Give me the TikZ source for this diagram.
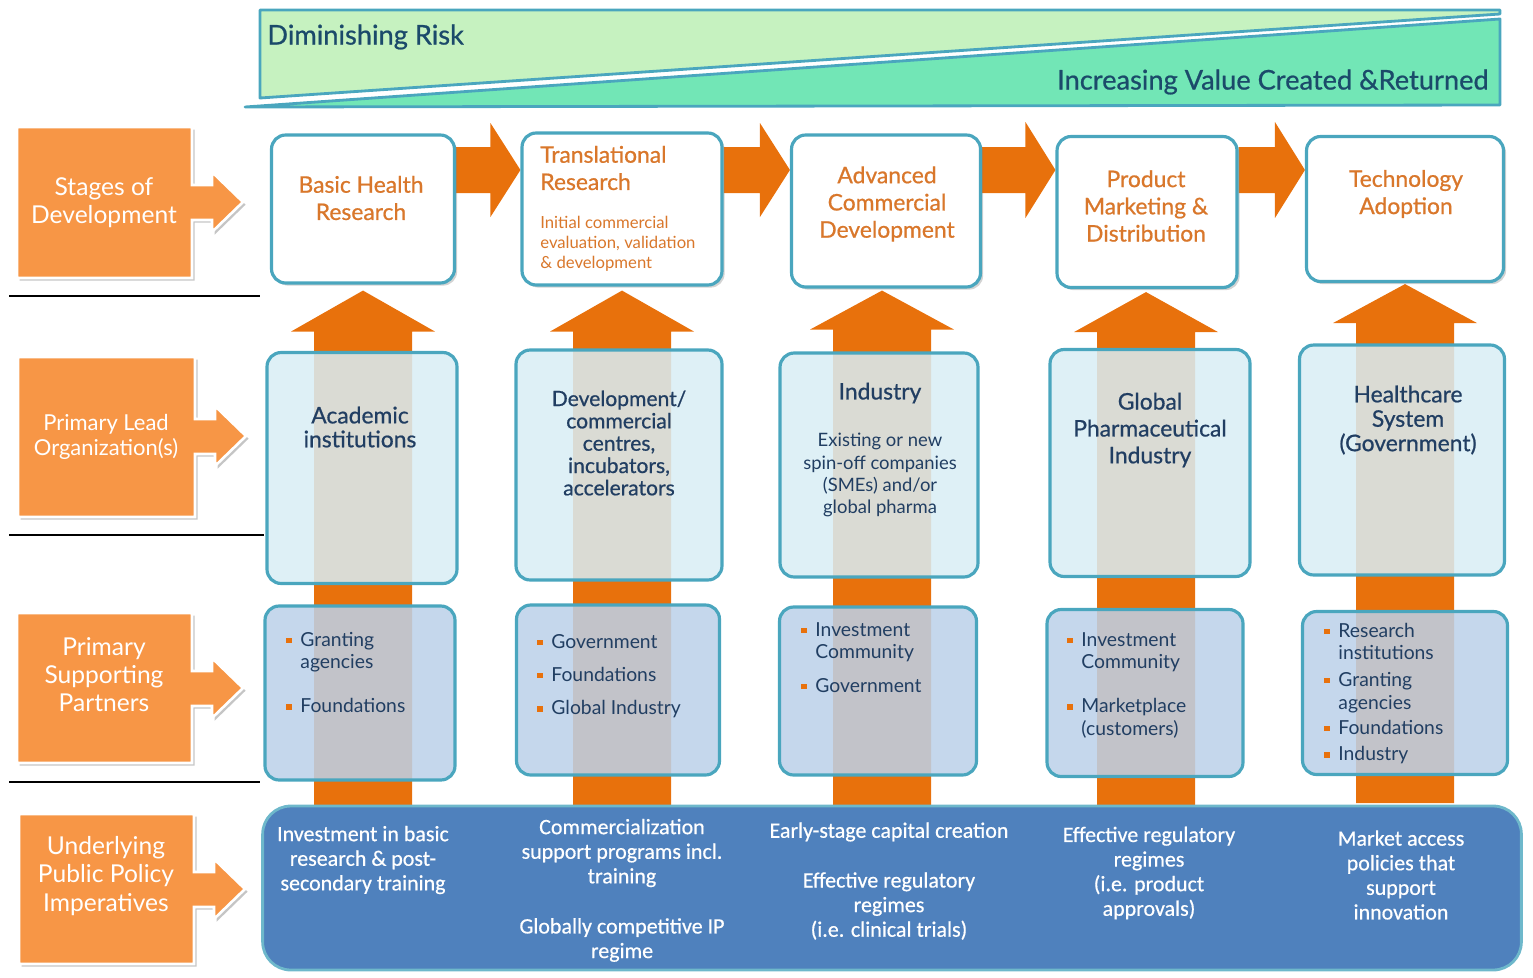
\documentclass[tikz,border=0pt]{standalone}
\usepackage{fontspec}
\setmainfont{Lato}
\newfontfamily\medfont{Lato}[FakeBold=0.7]
\newfontfamily\bandfont{Carlito}[FakeBold=0.5]
\usetikzlibrary{positioning,shadows,calc,backgrounds}

\definecolor{bannerlight}{HTML}{C6F2C0}
\definecolor{bannerdark}{HTML}{72E6B6}
\definecolor{tealline}{HTML}{4AA6BE}
\definecolor{bannerink}{HTML}{1B4A6A}
\definecolor{navyink}{HTML}{213E62}
\definecolor{flow}{HTML}{E8710C}
\definecolor{sidefill}{HTML}{F79646}
\definecolor{stageink}{HTML}{D9772B}
\definecolor{leadfill}{HTML}{D8EDF5}
\definecolor{partnerfill}{HTML}{BCD1E9}
\definecolor{policyfill}{HTML}{4F81BD}

\newcommand{\bul}{\textcolor{flow}{\rule[1.8pt]{3pt}{3pt}}}

\tikzset{
  bannertop/.style={fill=bannerlight, draw=tealline, line width=1.6pt, line join=round},
  bannerbottom/.style={fill=bannerdark, draw=tealline, line width=1.6pt, line join=round},
  bannertext/.style={text=bannerink, inner sep=0pt, font=\medfont\fontsize{15.5}{18}\selectfont},
  sidearrow/.style={fill=sidefill, draw=white, line width=1.5pt,
    drop shadow={shadow xshift=1.5pt, shadow yshift=-1.5pt, fill=black!45, opacity=.5}},
  sidetext/.style={text=white, align=center, inner sep=0pt, font=\fontsize{14}{16}\selectfont},
  flowarrow/.style={fill=flow},
  stagebox/.style={rectangle, rounded corners=8pt, draw=tealline, line width=1.8pt, fill=white,
    drop shadow={shadow xshift=1.5pt, shadow yshift=-1.5pt, fill=black!50, opacity=.35}},
  leadbox/.style={rectangle, rounded corners=8pt, draw=tealline, line width=1.8pt, fill=leadfill, fill opacity=.86},
  partnerbox/.style={rectangle, rounded corners=8pt, draw=tealline, line width=1.8pt, fill=partnerfill, fill opacity=.86},
  policyband/.style={rectangle, rounded corners=16pt, draw=tealline!80, line width=1.6pt, fill=policyfill},
  stagetitle/.style={text=stageink, align=center, inner sep=0pt, font=\medfont\fontsize{13}{15.5}\selectfont},
  stagenote/.style={text=stageink, align=left, inner sep=0pt, font=\fontsize{9.5}{11.4}\selectfont},
  leadtitle/.style={text=navyink, align=center, inner sep=0pt, font=\medfont\fontsize{13}{14}\selectfont},
  leadnote/.style={text=navyink, align=center, inner sep=0pt, font=\fontsize{10.5}{12.6}\selectfont},
  partnerlist/.style={text=navyink, anchor=base west, inner sep=0pt, font=\fontsize{11}{13}\selectfont},
  policytext/.style={text=white, align=center, inner sep=0pt, font=\bandfont\fontsize{12.5}{14}\selectfont}
}

\begin{document}
\begin{tikzpicture}[x=0.02cm, y=-0.02cm]
\useasboundingbox (0,0) rectangle (1533,977);

%Risk and value banner
\filldraw[bannertop] (260,10) -- (1500,10) -- (1500,14) -- (260,98) -- cycle;
\filldraw[bannerbottom] (245,107) -- (1500,19) -- (1500,105) -- cycle;
\node[bannertext, anchor=west] (risk) at (267,37) {Diminishing Risk};
\node[bannertext, anchor=east] (value) at (1489,82) {Increasing Value Created \&Returned};

%Row labels
\filldraw[sidearrow] (17,127) -- ++(175,0) -- ++(0,58) -- ++(20,0) -- ++(0,-13) -- ++(31,30)
  -- ++(-31,30) -- ++(0,-12) -- ++(-20,0) -- ++(0,58) -- ++(-175,0) -- cycle;
\filldraw[sidearrow] (18,357) -- ++(177,0) -- ++(0,62) -- ++(20,0) -- ++(0,-13) -- ++(31,30)
  -- ++(-31,30) -- ++(0,-12) -- ++(-20,0) -- ++(0,63) -- ++(-177,0) -- cycle;
\filldraw[sidearrow] (17,613) -- ++(175,0) -- ++(0,58) -- ++(20,0) -- ++(0,-13) -- ++(31,30)
  -- ++(-31,30) -- ++(0,-12) -- ++(-20,0) -- ++(0,57) -- ++(-175,0) -- cycle;
\filldraw[sidearrow] (19,814) -- ++(175,0) -- ++(0,58) -- ++(20,0) -- ++(0,-13) -- ++(31,30)
  -- ++(-31,30) -- ++(0,-12) -- ++(-20,0) -- ++(0,57) -- ++(-175,0) -- cycle;

\node[sidetext] (stages) at (104,203) {Stages of\\Development};
\node[sidetext, font=\fontsize{12.5}{14.2}\selectfont] (leadorg) at (106,437) {Primary Lead\\Organization(s)};
\node[sidetext] (partners) at (104,675) {Primary\\Supporting\\Partners};
\node[sidetext] (policy) at (106,876) {Underlying\\Public Policy\\Imperatives};

%Row separators
\draw[line width=0.6pt] (9,296) -- (260,296);
\draw[line width=0.6pt] (9,535) -- (264,535);
\draw[line width=0.6pt] (9,782) -- (260,782);

%Stages
\node[stagebox, minimum width=3.66cm, minimum height=2.96cm] (s1) at (363,209) {};
\node[stagebox, minimum width=4.0cm, minimum height=3.04cm] (s2) at (622,209) {};
\node[stagebox, minimum width=3.78cm, minimum height=3.04cm] (s3) at (886,211) {};
\node[stagebox, minimum width=3.6cm, minimum height=3.02cm] (s4) at (1147,212) {};
\node[stagebox, minimum width=3.94cm, minimum height=2.9cm] (s5) at (1405,209) {};

\node[stagetitle] (basic) at (361,198) {Basic Health\\Research};
\node[stagetitle, anchor=west, align=left] (transl) at (540,168) {Translational\\Research};
\node[stagenote, anchor=west] (translnote) at (540,244) {Initial commercial\\evaluation, validation\\\& development};
\node[stagetitle] (advanced) at (887,204) {Advanced\\Commercial\\Development};
\node[stagetitle] (product) at (1146,206) {Product\\Marketing \&\\Distribution};
\node[stagetitle] (techno) at (1406,194) {Technology\\Adoption};

%Lead organizations
\node[leadbox, minimum width=3.8cm, minimum height=4.62cm] (l1) at (362,468) {};
\node[leadbox, minimum width=4.12cm, minimum height=4.6cm] (l2) at (619,465) {};
\node[leadbox, minimum width=3.96cm, minimum height=4.48cm] (l3) at (879,465) {};
\node[leadbox, minimum width=4.0cm, minimum height=4.54cm] (l4) at (1150,463) {};
\node[leadbox, minimum width=4.1cm, minimum height=4.6cm] (l5) at (1402,460) {};

\node[leadtitle, font=\medfont\fontsize{13}{13.6}\selectfont] (academic) at (360,427) {Academic\\institutions};
\node[leadtitle, font=\medfont\fontsize{12}{12.7}\selectfont] (centres) at (619,443) {Development/\\commercial\\centres,\\incubators,\\accelerators};
\node[leadtitle] (industry) at (880,393) {Industry};
\node[leadnote] (spinoff) at (880,475) {Existing or new\\spin-off companies\\(SMEs) and/or\\global pharma};
\node[leadtitle, font=\medfont\fontsize{13}{15.3}\selectfont] (pharma) at (1150,430) {Global\\Pharmaceutical\\Industry};
\node[leadtitle, font=\medfont\fontsize{13}{13.9}\selectfont] (health) at (1408,420) {Healthcare\\System\\(Government)};

%Supporting partners
\node[partnerbox, minimum width=3.8cm, minimum height=3.48cm] (p1) at (360,693) {};
\node[partnerbox, minimum width=4.06cm, minimum height=3.4cm] (p2) at (618,690) {};
\node[partnerbox, minimum width=3.94cm, minimum height=3.36cm] (p3) at (878,691) {};
\node[partnerbox, minimum width=3.92cm, minimum height=3.34cm] (p4) at (1145,693) {};
\node[partnerbox, minimum width=4.1cm, minimum height=3.26cm] (p5) at (1405,693) {};

\node[partnerlist] (list1) at (286,646) {\begin{tabular}[t]{@{}l@{\hspace{5pt}}l@{}}
  \bul & Granting\\ & agencies\\[12pt] \bul & Foundations\end{tabular}};
\node[partnerlist] (list2) at (537,648) {\begin{tabular}[t]{@{}l@{\hspace{5pt}}l@{}}
  \bul & Government\\[6pt] \bul & Foundations\\[6pt] \bul & Global Industry\end{tabular}};
\node[partnerlist] (list3) at (801,636) {\begin{tabular}[t]{@{}l@{\hspace{5pt}}l@{}}
  \bul & Investment\\ & Community\\[6pt] \bul & Government\end{tabular}};
\node[partnerlist] (list4) at (1067,646) {\begin{tabular}[t]{@{}l@{\hspace{5pt}}l@{}}
  \bul & Investment\\ & Community\\[12pt] \bul & Marketplace\\ & (customers)\end{tabular}};
\node[partnerlist] (list5) at (1324,637) {\begin{tabular}[t]{@{}l@{\hspace{5pt}}l@{}}
  \bul & Research\\ & institutions\\[2pt] \bul & Granting\\ & agencies\\[1.5pt]
  \bul & Foundations\\[2pt] \bul & Industry\end{tabular}};

%Public policy band
\node[policyband, minimum width=25.18cm, minimum height=3.28cm] (band) at (892,888) {};

\node[policytext] (basicinv) at (363,860) {Investment in basic\\research \& post-\\secondary training};
\node[policytext] (commerc) at (622,853) {Commercialization\\support programs incl.\\training};
\node[policytext] (ipregime) at (622,940) {Globally competitive IP\\regime};
\node[policytext] (capital) at (889,832) {Early-stage capital creation};
\node[policytext] (clinical) at (889,906) {Effective regulatory\\regimes\\(i.e. clinical trials)};
\node[policytext] (approvals) at (1149,873) {Effective regulatory\\regimes\\(i.e. product\\approvals)};
\node[policytext] (market) at (1401,875) {Market access\\policies that\\support\\innovation};

%Flow arrows behind the boxes
\begin{scope}[on background layer]
  \fill[flowarrow] (s2.west |- 0,170) -- ++(-30,-47) -- ++(0,24) -- (s1.east |- 0,147)
    -- (s1.east |- 0,193) -- ($(s2.west |- 0,170)+(-30,23)$) -- ++(0,24) -- cycle;
  \fill[flowarrow] (s3.west |- 0,170) -- ++(-30,-47) -- ++(0,24) -- (s2.east |- 0,147)
    -- (s2.east |- 0,193) -- ($(s3.west |- 0,170)+(-30,23)$) -- ++(0,24) -- cycle;
  \fill[flowarrow] (s4.west |- 0,170) -- ++(-30,-48) -- ++(0,25) -- (s3.east |- 0,147)
    -- (s3.east |- 0,193) -- ($(s4.west |- 0,170)+(-30,23)$) -- ++(0,25) -- cycle;
  \fill[flowarrow] (s5.west |- 0,170) -- ++(-30,-48) -- ++(0,25) -- (s4.east |- 0,147)
    -- (s4.east |- 0,193) -- ($(s5.west |- 0,170)+(-30,23)$) -- ++(0,25) -- cycle;

  \fill[flowarrow] ($(s1.south)+(0,6)$) -- ++(72,41) -- ++(-23,0) -- ++(0,480) -- ++(-98,0)
    -- ++(0,-480) -- ++(-23,0) -- cycle;
  \fill[flowarrow] ($(s2.south)+(0,4)$) -- ++(72,41) -- ++(-23,0) -- ++(0,480) -- ++(-98,0)
    -- ++(0,-480) -- ++(-23,0) -- cycle;
  \fill[flowarrow] ($(s3.south)+(-4,2)$) -- ++(72,39) -- ++(-23,0) -- ++(0,480) -- ++(-98,0)
    -- ++(0,-480) -- ++(-23,0) -- cycle;
  \fill[flowarrow] ($(s4.south)+(-1,3)$) -- ++(72,40) -- ++(-23,0) -- ++(0,480) -- ++(-98,0)
    -- ++(0,-480) -- ++(-23,0) -- cycle;
  \fill[flowarrow] ($(s5.south)+(0,1)$) -- ++(72,39) -- ++(-23,0) -- ++(0,480) -- ++(-98,0)
    -- ++(0,-480) -- ++(-23,0) -- cycle;
\end{scope}

\end{tikzpicture}
\end{document}
